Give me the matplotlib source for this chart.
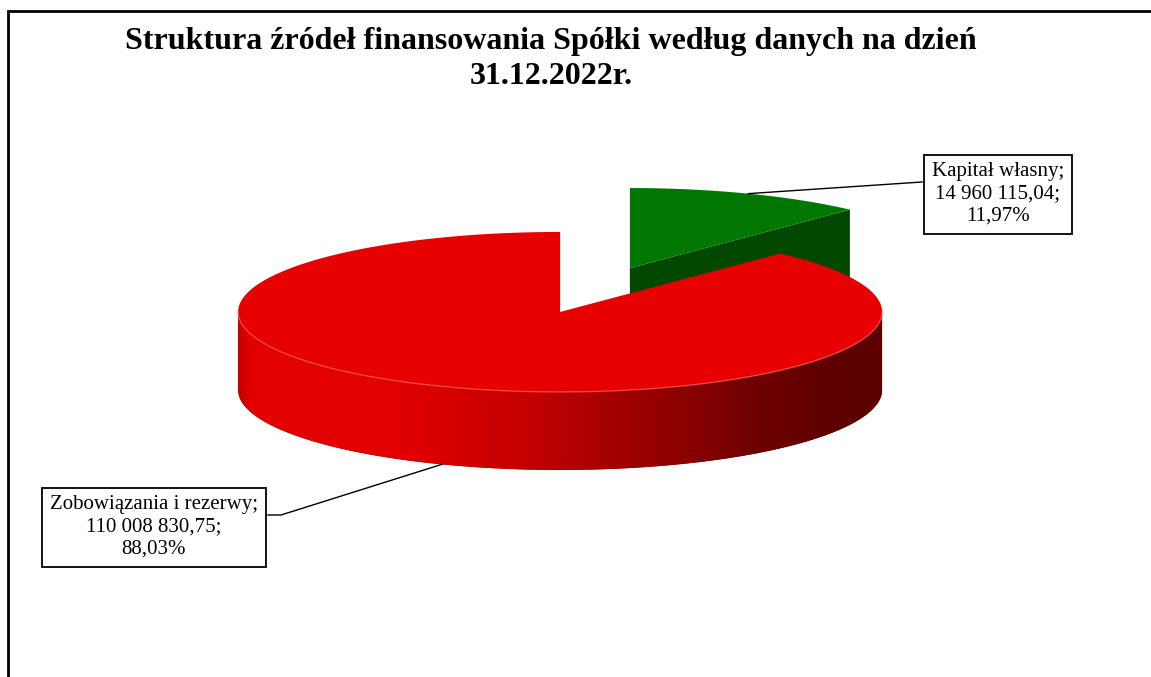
import numpy as np
import matplotlib
matplotlib.use('Agg')
import matplotlib.pyplot as plt
from matplotlib.patches import Polygon
from matplotlib.colors import LinearSegmentedColormap

plt.rcParams['font.family'] = ['Liberation Serif', 'DejaVu Serif']

# dane
title_lines = ['Struktura źródeł finansowania Spółki według danych na dzień', '31.12.2022r.']
labels = ['Kapitał własny', 'Zobowiązania i rezerwy']
values = [14960115.04, 110008830.75]
top_colors = ['#007800', '#E60000']
face_colors = ['#004800', '#8C0000']
side_ramp = ['#C80000', '#E40000', '#E20000', '#C40000', '#960000', '#700000', '#600000', '#5C0000']

# geometria wykresu 3D (w pikselach)
CX, CY = 595, 290      # srodek wspolny
A, B = 322, 80         # polosie elipsy
DEPTH = 78             # grubosc
EXPLODE = 0.295


def pl_num(v):
    return f'{v:,.2f}'.replace(',', ' ').replace('.', ',')


def pt(c, t, dz=0.0):
    t = np.radians(t)
    return np.column_stack([c[0] + A * np.cos(t), c[1] - B * np.sin(t) + dz])


fig = plt.figure(figsize=(11.51, 6.77), dpi=100)
ax = fig.add_axes([0, 0, 1, 1])
ax.axis('off')

total = sum(values)
fracs = [v / total for v in values]

# katy wycinkow (start 90, zgodnie z ruchem wskazowek)
slices = []
start = 90.0
for f in fracs:
    t1, t2 = start, start - 360 * f
    mid = (t1 + t2) / 2
    c = (CX + EXPLODE * A * np.cos(np.radians(mid)), CY - EXPLODE * B * np.sin(np.radians(mid)))
    slices.append((t1, t2, mid, c))
    start = t2

ramp = LinearSegmentedColormap.from_list('side', list(zip([0, 0.02, 0.25, 0.45, 0.65, 0.8, 0.92, 1.0], side_ramp)))

z = 1
for i, (t1, t2, mid, c) in enumerate(slices):
    # sciany ciecia
    for t, n in ((t2, t2 - 90), (t1, t1 + 90)):
        if np.sin(np.radians(n)) < -1e-6:
            p0 = np.array(c)
            p1 = pt(c, t)[0]
            quad = np.array([p0, p1, p1 + [0, DEPTH], p0 + [0, DEPTH]])
            ax.add_patch(Polygon(quad, closed=True, fc=face_colors[i], ec='none', zorder=z))
            z += 1
    # boczna sciana (przod)
    for k in (-2, -1, 0, 1):
        lo, hi = max(t2, 180 + 360 * k), min(t1, 360 + 360 * k)
        if hi > lo:
            tt = np.linspace(lo, hi, 200)
            upper = pt(c, tt)
            lower = pt(c, tt[::-1], DEPTH)
            poly = Polygon(np.vstack([upper, lower]), closed=True, fc=face_colors[i], ec='none', zorder=z)
            ax.add_patch(poly)
            z += 1
            x0, x1 = c[0] - A, c[0] + A
            im = ax.imshow(np.linspace(0, 1, 256)[np.newaxis, :], extent=(x0, x1, c[1] + B + DEPTH, c[1] - B),
                           cmap=ramp, aspect='auto', zorder=z, interpolation='bilinear')
            im.set_clip_path(poly)
            z += 1
            ax.plot(upper[:, 0], upper[:, 1], color='#FF6A6A', lw=1.0, alpha=0.6, zorder=z + 1)
    # gorna powierzchnia
    tt = np.linspace(t2, t1, 400)
    top = np.vstack([[c], pt(c, tt)])
    ax.add_patch(Polygon(top, closed=True, fc=top_colors[i], ec='none', zorder=z))
    z += 2

# etykiety danych
label_pos = [(998, 194), (154, 527)]
leader_knee = [None, (281, 515)]
for i, (t1, t2, mid, c) in enumerate(slices):
    txt = f'{labels[i]};\n{pl_num(values[i])};\n{fracs[i] * 100:.2f}'.replace('.', ',') + '%'
    ax.text(label_pos[i][0], label_pos[i][1], txt, ha='center', va='center', fontsize=15,
            multialignment='center', linespacing=1.25, zorder=50,
            bbox=dict(boxstyle='square,pad=0.36', fc='white', ec='black', lw=1.3))
    anchor = pt(c, mid, 0 if np.sin(np.radians(mid)) > 0 else DEPTH)[0]
    if leader_knee[i] is None:
        xs, ys = [anchor[0], 922], [anchor[1], 182]
    else:
        xs, ys = [anchor[0], leader_knee[i][0], 268], [anchor[1], leader_knee[i][1], leader_knee[i][1]]
    ax.plot(xs, ys, color='black', lw=1, zorder=40)

# tytul
ax.text(551, 49, title_lines[0], ha='center', va='baseline', fontsize=23, fontweight='bold')
ax.text(551, 84, title_lines[1], ha='center', va='baseline', fontsize=23, fontweight='bold')

# ramka
ax.plot([8, 8, 1160], [690, 11, 11], color='black', lw=2, solid_joinstyle='miter', clip_on=False, zorder=60)

ax.set_xlim(0, 1151)
ax.set_ylim(677, 0)
fig.savefig('out.png', dpi=100)
